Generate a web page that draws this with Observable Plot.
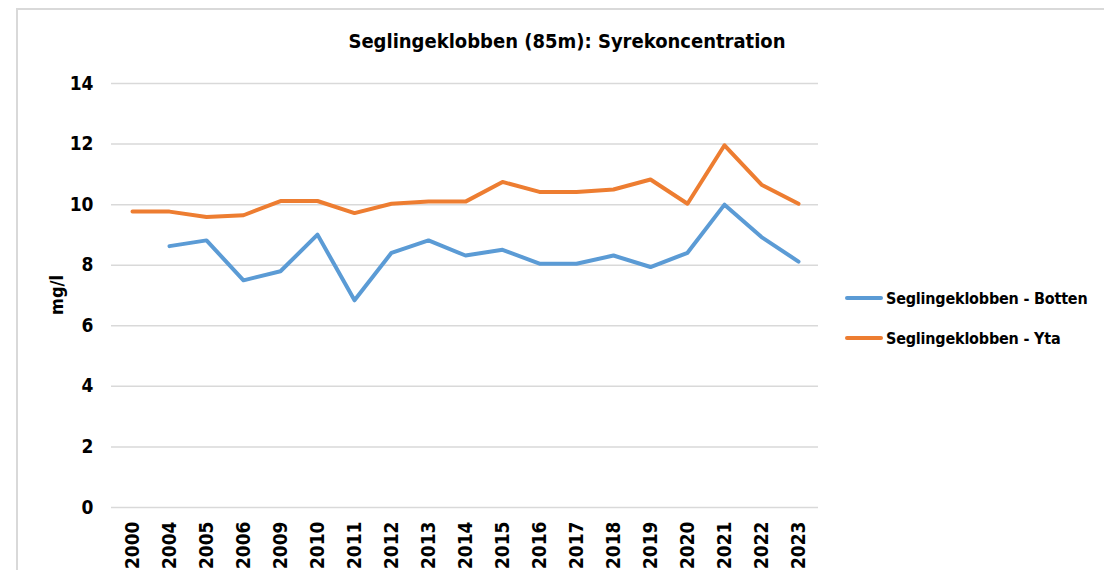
<!DOCTYPE html>
<html>
<head>
<meta charset="utf-8">
<script src="https://cdn.jsdelivr.net/npm/d3@7"></script>
<script src="https://cdn.jsdelivr.net/npm/@observablehq/plot@0.6"></script>
<style>
  html, body { margin: 0; padding: 0; background: #fff; }
  #wrap { position: relative; width: 1104px; height: 570px; overflow: hidden;
    font-family: "Liberation Sans Narrow", "DejaVu Sans Condensed", "Liberation Sans", sans-serif; }
  #frame { position: absolute; left: 16px; top: 8px; width: 1100px; height: 600px;
    border-left: 2px solid #d9d9d9; border-top: 2px solid #d9d9d9; box-sizing: border-box; }
  #title { position: absolute; left: 0; width: 1134px; top: 29px; text-align: center;
    font-size: 20px; font-weight: bold; color: #000; white-space: nowrap; }
  #legend { position: absolute; left: 845px; top: 278px; font-size: 16px; letter-spacing: -0.2px; font-weight: bold; color: #000; white-space: nowrap; }
  .item { display: flex; align-items: center; height: 40px; }
  .sw { width: 38px; height: 4px; border-radius: 2px; margin-right: 3px; }
  #chart { position: absolute; left: 0; top: 0; }
</style>
</head>
<body>
<div id="wrap">
  <div id="frame"></div>
  <div id="chart"></div>
  <div id="title">Seglingeklobben (85m): Syrekoncentration</div>
  <div id="legend"></div>
</div>
<script>
const years = ["2000","2004","2005","2006","2009","2010","2011","2012","2013","2014","2015","2016","2017","2018","2019","2020","2021","2022","2023"];
const botten = [null, 8.63, 8.82, 7.50, 7.80, 9.01, 6.84, 8.41, 8.82, 8.32, 8.51, 8.05, 8.05, 8.32, 7.94, 8.41, 10.0, 8.93, 8.12];
const yta = [9.77, 9.77, 9.59, 9.65, 10.12, 10.12, 9.72, 10.03, 10.1, 10.1, 10.75, 10.42, 10.42, 10.5, 10.83, 10.03, 11.96, 10.66, 10.03];
const seriesNames = ["Seglingeklobben - Botten", "Seglingeklobben - Yta"];
const seriesColors = ["#5b9bd5", "#ed7d31"];
const yTicks = [0, 2, 4, 6, 8, 10, 12, 14];
const yLabel = "mg/l";

const rows = [];
years.forEach((yr, i) => {
  if (botten[i] != null) rows.push({year: yr, value: botten[i], series: seriesNames[0]});
});
years.forEach((yr, i) => {
  if (yta[i] != null) rows.push({year: yr, value: yta[i], series: seriesNames[1]});
});

const fontFam = '"Liberation Sans Narrow", "DejaVu Sans Condensed", "Liberation Sans", sans-serif';

const chart = Plot.plot({
  width: 1104,
  height: 570,
  marginLeft: 111,
  marginRight: 286,
  marginTop: 83,
  marginBottom: 63,
  style: {fontFamily: fontFam, fontSize: "19px", fontWeight: "bold", color: "#000", background: "transparent"},
  x: {type: "point", domain: years, padding: 0.5, label: null},
  y: {domain: [0, 14], ticks: yTicks, label: null},
  color: {domain: seriesNames, range: seriesColors},
  marks: [
    Plot.ruleY(yTicks, {stroke: "#d9d9d9", strokeWidth: 1.5}),
    Plot.axisY({ticks: yTicks, tickSize: 0, tickPadding: 18, label: null, fontSize: 19, fontWeight: "bold"}),
    Plot.axisX({tickSize: 0, tickPadding: 14, tickRotate: -90, label: null, fontSize: 19, fontWeight: "bold"}),
    Plot.line(rows, {x: "year", y: "value", z: "series", stroke: "series", strokeWidth: 4, curve: "linear", strokeLinejoin: "round", strokeLinecap: "round"})
  ]
});
document.getElementById("chart").appendChild(chart);

// y-axis label
const svg = d3.select(chart);
svg.append("text")
  .attr("transform", "translate(63,295) rotate(-90)")
  .attr("text-anchor", "middle")
  .attr("font-family", fontFam)
  .attr("font-size", 18)
  .attr("font-weight", "bold")
  .attr("fill", "#000")
  .text(yLabel);

const legend = document.getElementById("legend");
seriesNames.forEach((n, i) => {
  const it = document.createElement("div");
  it.className = "item";
  const sw = document.createElement("div");
  sw.className = "sw";
  sw.style.background = seriesColors[i];
  const t = document.createElement("span");
  t.textContent = n;
  it.appendChild(sw); it.appendChild(t);
  legend.appendChild(it);
});
</script>
</body>
</html>
